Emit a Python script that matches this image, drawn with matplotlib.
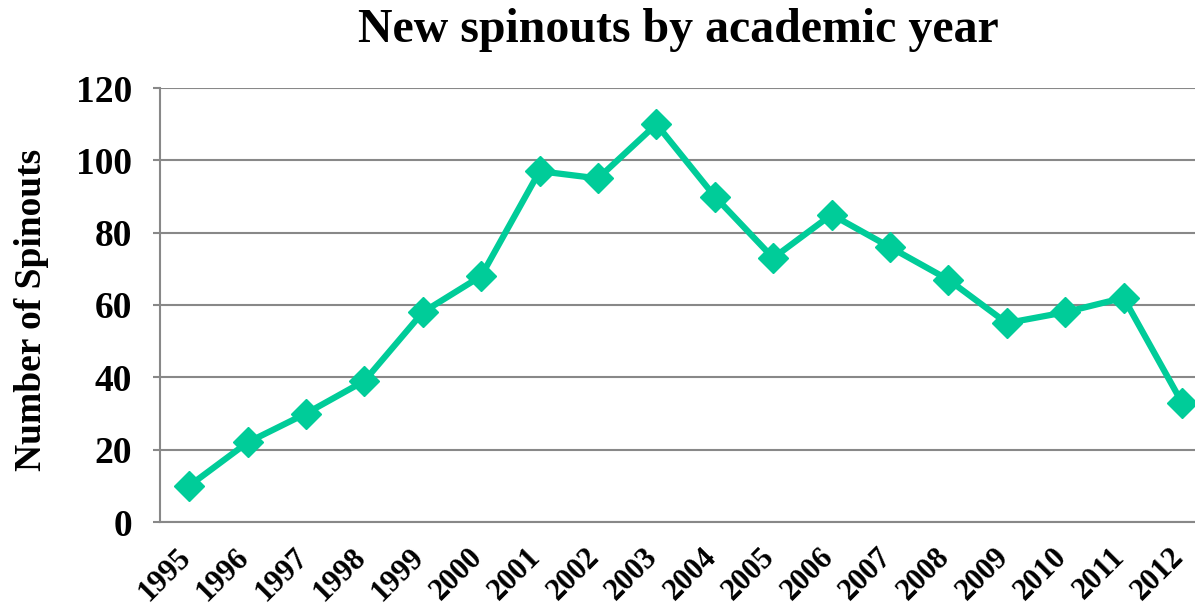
import numpy as np
import matplotlib.pyplot as plt
import matplotlib.transforms as mtransforms

years = ["1995", "1996", "1997", "1998", "1999", "2000", "2001", "2002", "2003",
         "2004", "2005", "2006", "2007", "2008", "2009", "2010", "2011", "2012"]
spinouts = [10, 22, 30, 39, 58, 68, 97, 95, 110, 90, 73, 85, 76, 67, 55, 58, 62, 33]
y_ticks = [0, 20, 40, 60, 80, 100, 120]

plt.rcParams["font.family"] = ["Liberation Serif", "DejaVu Serif"]
plt.rcParams["font.weight"] = "bold"

fig = plt.figure(figsize=(11.95, 6.07), dpi=100)
ax = fig.add_axes([160 / 1195, 1 - 522 / 607, 1 - 160 / 1195, (522 - 88) / 607])

x = np.arange(len(years))
ax.plot(
    x,
    spinouts,
    c="#00CC99",
    linewidth=4.5,
    marker="D",
    markersize=15,
    clip_on=False,
    zorder=3,
)

ax.set_xlim(-0.5, (1195 - 160) / 58.4 - 0.5)
ax.set_ylim(0, 120)
ax.set_yticks(y_ticks)
ax.set_xticks(x)
ax.set_xticklabels(years, rotation=45, ha="right", rotation_mode="anchor",
                   fontsize=22, fontweight="bold")
ax.tick_params(axis="x", length=0, pad=15)
ax.tick_params(axis="y", length=5, width=1.5, color="#888888", labelsize=27, pad=15)
for lbl in ax.get_yticklabels():
    lbl.set_fontweight("bold")

# nudge the rotated year labels a bit to the left, like the original
shift = mtransforms.ScaledTranslation(-13 / 100, 0, fig.dpi_scale_trans)
for tick in ax.xaxis.get_major_ticks():
    tick.label1.set_transform(ax.get_xaxis_text1_transform(15)[0] + shift)

ax.grid(axis="y", color="#888888", linewidth=1.5)
ax.set_axisbelow(True)
for side in ["top", "right"]:
    ax.spines[side].set_visible(False)
for side in ["left", "bottom"]:
    ax.spines[side].set_color("#888888")
    ax.spines[side].set_linewidth(1.5)

fig.text(678 / 1195, 1 - 30 / 607, "New spinouts by academic year", ha="center", va="center",
         fontsize=34.5, fontweight="bold")
fig.text(32 / 1195, 1 - 310 / 607, "Number of Spinouts", ha="center", va="center",
         rotation=90, fontsize=27, fontweight="bold")

plt.savefig("out.png", dpi=100)
plt.close()
